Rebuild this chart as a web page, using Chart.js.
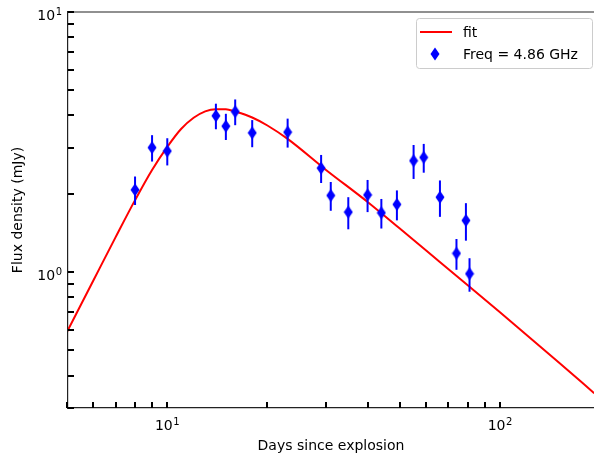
<!DOCTYPE html>
<html>
<head>
<meta charset="utf-8">
<script src="https://cdn.jsdelivr.net/npm/chart.js@4.4.0/dist/chart.umd.min.js"></script>
<style>
  html, body { margin: 0; padding: 0; background: #fff; overflow: hidden; }
  canvas { display: block; }
</style>
</head>
<body>
<canvas id="fluxChart" width="594" height="461"></canvas>
<script>
// measured points at 4.86 GHz
const days = [8, 9, 10, 14, 15, 16, 18, 23, 29, 31, 35, 40, 44, 49, 55, 59, 66, 74, 79, 81];
const flux = [2.07, 3.01, 2.92, 3.99, 3.64, 4.14, 3.43, 3.45, 2.51, 1.97, 1.70, 1.98, 1.69, 1.82, 2.68, 2.76, 1.94, 1.18, 1.58, 0.985];
const fluxErr = [0.26, 0.35, 0.35, 0.45, 0.42, 0.47, 0.41, 0.44, 0.31, 0.25, 0.24, 0.28, 0.22, 0.24, 0.40, 0.35, 0.31, 0.16, 0.26, 0.145];

// fit curve
const fitDays = [5, 6, 7, 8, 9, 10, 11, 12, 13, 14, 15, 16, 18, 20, 23, 30, 40, 50, 60, 80, 100, 150, 192];
const fitFlux = [0.59, 0.93, 1.365, 1.89, 2.47, 3.03, 3.55, 3.92, 4.15, 4.23, 4.23, 4.14, 3.93, 3.66, 3.25, 2.47, 1.86, 1.47, 1.21, 0.89, 0.70, 0.45, 0.342];

// tick positions
const xMajor = [10, 100];
const yMajor = [1, 10];
const xMinor = [5, 6, 7, 8, 9, 20, 30, 40, 50, 60, 70, 80, 90];
const yMinor = [0.3, 0.4, 0.5, 0.6, 0.7, 0.8, 0.9, 2, 3, 4, 5, 6, 7, 8, 9];

const FONT = '"DejaVu Sans", sans-serif';

function makeDiamond() {
  const c = document.createElement('canvas');
  c.width = 10; c.height = 14;
  const g = c.getContext('2d');
  g.fillStyle = '#0000ff';
  g.beginPath();
  g.moveTo(5, 0.5); g.lineTo(9.5, 7); g.lineTo(5, 13.5); g.lineTo(0.5, 7);
  g.closePath();
  g.fill();
  return c;
}
const diamond = makeDiamond();

function powLabel(ctx, exp, x, y, align) {
  ctx.font = '14px ' + FONT;
  const bw = ctx.measureText('10').width;
  ctx.font = '10px ' + FONT;
  const ew = ctx.measureText(exp).width;
  const total = bw + ew + 0.5;
  const left = align === 'right' ? x - total : x - total / 2;
  ctx.textAlign = 'left';
  ctx.textBaseline = 'alphabetic';
  ctx.font = '14px ' + FONT;
  ctx.fillText('10', left, y);
  ctx.font = '10px ' + FONT;
  ctx.fillText(exp, left + bw + 0.5, y - 5);
}

const decorations = {
  id: 'decorations',
  beforeDatasetDraw(chart, args) {
    if (args.index !== 1) return;
    const {ctx, scales: {x, y}} = chart;
    ctx.save();
    ctx.strokeStyle = '#0000ff';
    ctx.lineWidth = 2;
    days.forEach((d, i) => {
      const px = x.getPixelForValue(d);
      ctx.beginPath();
      ctx.moveTo(px, y.getPixelForValue(flux[i] - fluxErr[i]));
      ctx.lineTo(px, y.getPixelForValue(flux[i] + fluxErr[i]));
      ctx.stroke();
    });
    ctx.restore();
  },
  afterDraw(chart) {
    const {ctx, chartArea: a, scales: {x, y}} = chart;
    ctx.save();
    // top spine
    ctx.strokeStyle = '#222';
    ctx.lineWidth = 1.2;
    ctx.beginPath();
    ctx.moveTo(a.left, a.top);
    ctx.lineTo(a.right, a.top);
    ctx.stroke();

    // inward ticks
    ctx.strokeStyle = '#000';
    ctx.lineWidth = 2;
    xMajor.concat(xMinor).forEach(v => {
      const px = Math.round(x.getPixelForValue(v));
      ctx.beginPath();
      ctx.moveTo(px, a.bottom);
      ctx.lineTo(px, a.bottom - 6);
      ctx.stroke();
    });
    yMajor.concat(yMinor).forEach(v => {
      const py = Math.round(y.getPixelForValue(v));
      ctx.beginPath();
      ctx.moveTo(a.left, py);
      ctx.lineTo(a.left + 6, py);
      ctx.stroke();
    });

    // tick labels
    ctx.fillStyle = '#000';
    xMajor.forEach(v => powLabel(ctx, String(Math.round(Math.log10(v))), x.getPixelForValue(v), a.bottom + 21.5, 'center'));
    yMajor.forEach(v => powLabel(ctx, String(Math.round(Math.log10(v))), a.left - 6, y.getPixelForValue(v) + 8, 'right'));

    // legend
    const lx = 416.5, ly = 18.5, lw = 176, lh = 50;
    ctx.fillStyle = 'rgba(255,255,255,0.8)';
    ctx.strokeStyle = '#cccccc';
    ctx.lineWidth = 1;
    ctx.beginPath();
    ctx.roundRect(lx, ly, lw, lh, 3);
    ctx.fill();
    ctx.stroke();
    ctx.strokeStyle = '#ff0000';
    ctx.lineWidth = 2;
    ctx.beginPath();
    ctx.moveTo(420, 32);
    ctx.lineTo(452, 32);
    ctx.stroke();
    ctx.drawImage(diamond, 430, 47);
    ctx.fillStyle = '#000';
    ctx.font = '14px ' + FONT;
    ctx.textAlign = 'left';
    ctx.textBaseline = 'alphabetic';
    ctx.fillText('fit', 463, 36.5);
    ctx.fillText('Freq = 4.86 GHz', 463, 58.5);
    ctx.restore();
  }
};

const ctx = document.getElementById('fluxChart').getContext('2d');
const fluxChart = new Chart(ctx, {
  type: 'scatter',
  data: {
    datasets: [{
      label: 'fit',
      data: fitDays.map((d, i) => ({x: d, y: fitFlux[i]})),
      showLine: true,
      borderColor: '#ff0000',
      borderWidth: 2,
      pointRadius: 0,
      cubicInterpolationMode: 'monotone',
      order: 2
    }, {
      label: 'Freq = 4.86 GHz',
      data: days.map((d, i) => ({x: d, y: flux[i]})),
      pointStyle: diamond,
      pointRadius: 5,
      backgroundColor: '#0000ff',
      borderColor: '#0000ff',
      order: 1
    }]
  },
  options: {
    responsive: false,
    animation: false,
    layout: { autoPadding: false, padding: { top: 12, left: 0, right: 0, bottom: 0 } },
    plugins: {
      legend: { display: false },
      tooltip: { enabled: false }
    },
    scales: {
      x: {
        type: 'logarithmic',
        min: 5.03,
        max: 191.7,
        bounds: 'data',
        grid: { display: false, drawTicks: false },
        border: { display: true, color: '#222', width: 1.2 },
        ticks: { display: false },
        title: {
          display: true,
          text: 'Days since explosion',
          color: '#000',
          font: { family: FONT, size: 14 },
          padding: { top: 0, bottom: 6 }
        },
        afterFit: scale => { scale.height = 53; }
      },
      y: {
        type: 'logarithmic',
        min: 0.3,
        max: 10,
        bounds: 'data',
        grid: { display: false, drawTicks: false },
        border: { display: true, color: '#222', width: 1.2 },
        ticks: { display: false },
        title: {
          display: true,
          text: 'Flux density (mJy)',
          color: '#000',
          font: { family: FONT, size: 14 },
          padding: { top: 10, bottom: 0 }
        },
        afterFit: scale => { scale.width = 68; }
      }
    }
  },
  plugins: [decorations]
});
</script>
</body>
</html>
